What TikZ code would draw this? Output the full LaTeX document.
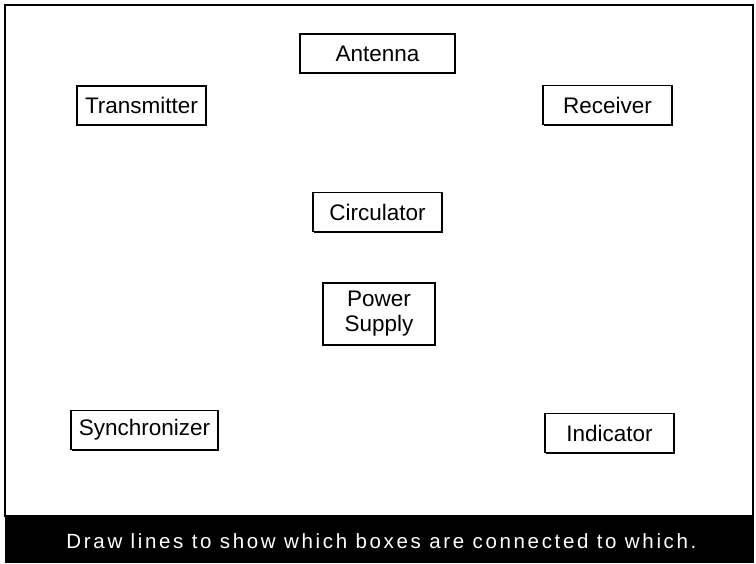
\documentclass[tikz,border=0pt]{standalone}
\usepackage{fontspec}
\setmainfont{Liberation Sans}
\newfontfamily\barfont[LetterSpace=13]{Liberation Sans}
\usetikzlibrary{shadows,positioning}
\definecolor{rdInk}{HTML}{000000}
\definecolor{rdPaper}{HTML}{FFFFFF}
\tikzset{
  blk/.style={draw=rdInk, fill=rdPaper, line width=1.8pt, inner sep=0pt, minimum height=39pt, align=center,
    font=\fontsize{22.5}{25}\selectfont,
    drop shadow={shadow xshift=1.2pt, shadow yshift=-1.2pt, opacity=1, fill=rdInk}},
  frm/.style={draw=rdInk, line width=1.6pt},
  bar/.style={fill=rdInk},
}

\begin{document}
\begin{tikzpicture}[x=1pt, y=-1pt]
    \useasboundingbox (0,0) rectangle (756,563);
    \draw[frm] (5,5) rectangle (753,516);
    \fill[bar] (5,516) rectangle (754,563);
    \node[text=white, font=\barfont\fontsize{20.5}{24}\selectfont] (msg) at (381.5,541) {Draw lines to show which boxes are connected to which.};
    \node[blk, minimum width=155pt] (ant) at (377.5,53.5) {Antenna};
    \node[blk, minimum width=129pt] (tx) at (141.5,105.5) {Transmitter};
    \node[blk, minimum width=129pt] (rx) at (607.5,105) {Receiver};
    \node[blk, minimum width=129pt] (circ) at (377.5,212) {Circulator};
    \node[blk, minimum width=112pt, minimum height=62pt] (ps) at (379,314) {Power\\Supply};
    \node[blk, minimum width=147pt] (sync) at (144.5,430) {Synchronizer};
    \node[blk, minimum width=129pt] (ind) at (609.5,433) {Indicator};
\end{tikzpicture}
\end{document}
